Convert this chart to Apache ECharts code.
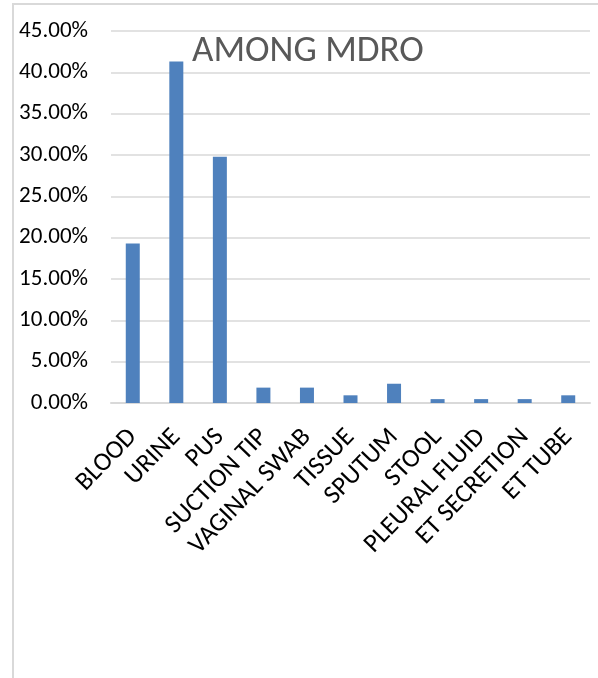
<!DOCTYPE html>
<html>
<head>
<meta charset="utf-8">
<script src="https://cdn.jsdelivr.net/npm/echarts@6/dist/echarts.min.js"></script>
<style>
  html, body { margin: 0; padding: 0; background: #ffffff; }
  #chart { width: 598px; height: 678px; }
</style>
</head>
<body>
<div id="chart"></div>
<script>
// Specimen types
const categories = ['BLOOD', 'URINE', 'PUS', 'SUCTION TIP', 'VAGINAL SWAB', 'TISSUE',
  'SPUTUM', 'STOOL', 'PLEURAL FLUID', 'ET SECRETION', 'ET TUBE'];
// Share of MDRO isolates per specimen (%)
const shares = [19.3, 41.3, 29.8, 1.86, 1.86, 0.93, 2.33, 0.47, 0.47, 0.47, 0.93];
// Value axis range and step (%)
const axisMin = 0;
const axisMax = 45;
const axisStep = 5;

const chart = echarts.init(document.getElementById('chart'), null, { renderer: 'canvas' });
const font = "Carlito, Calibri, 'Liberation Sans', sans-serif";

chart.setOption({
  animation: false,
  backgroundColor: '#ffffff',
  title: {
    text: 'AMONG MDRO',
    left: 192,
    top: 33,
    padding: 0,
    textStyle: { fontFamily: font, fontSize: 37, fontWeight: 'normal', color: '#595959' }
  },
  graphic: [
    {
      // light frame on the left and top edges
      type: 'polyline',
      shape: { points: [[13, 700], [13, 4], [600, 4]] },
      style: { stroke: '#d9d9d9', lineWidth: 2, fill: null },
      silent: true
    }
  ],
  grid: { left: 111, right: 8, top: 31, bottom: 275, containLabel: false },
  xAxis: {
    type: 'category',
    data: categories,
    axisLine: { show: true, lineStyle: { color: '#d9d9d9', width: 2 } },
    axisTick: { show: false },
    axisLabel: {
      interval: 0,
      rotate: 46,
      margin: 30,
      fontFamily: font,
      fontSize: 26,
      color: '#000000'
    }
  },
  yAxis: {
    type: 'value',
    min: axisMin,
    max: axisMax,
    interval: axisStep,
    axisLine: { show: false },
    axisTick: { show: false },
    splitLine: { lineStyle: { color: '#d9d9d9', width: 1.5 } },
    axisLabel: {
      margin: 23,
      fontFamily: font,
      fontSize: 23,
      color: '#000000',
      formatter: v => v.toFixed(2) + '%'
    }
  },
  series: [{
    type: 'bar',
    data: shares,
    barWidth: 14,
    itemStyle: { color: '#4f81bd' }
  }]
});
</script>
</body>
</html>
